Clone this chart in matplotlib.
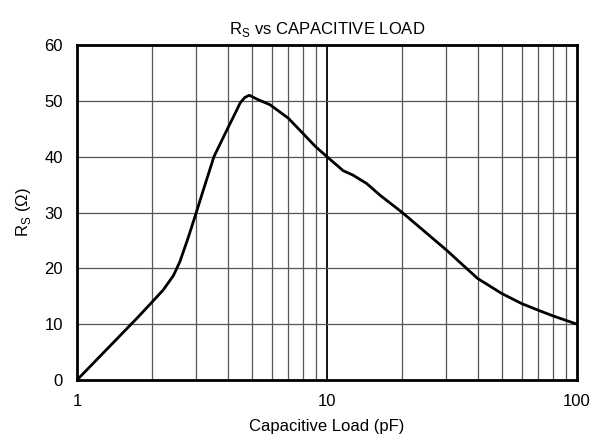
import numpy as np
import matplotlib.pyplot as plt

plt.rcParams['font.family'] = ['Liberation Sans', 'DejaVu Sans']

# values
cap_pf = [1.0, 1.74, 2.0, 2.21, 2.43, 2.58, 2.79, 3.0, 3.2, 3.53, 3.9, 4.0, 4.35, 4.49, 4.69,
          4.89, 5.25, 5.92, 7.0, 8.0, 9.0, 10.0, 11.6, 12.7, 14.4, 16.3, 20.0, 30.0, 40.0,
          50.0, 60.0, 70.0, 80.0, 100.0]
rs_ohm = [0.0, 11.1, 14.0, 16.1, 18.7, 21.2, 25.6, 30.0, 34.0, 40.0, 44.0, 45.0, 48.3, 49.6, 50.6,
          51.0, 50.3, 49.3, 46.9, 44.2, 41.8, 40.0, 37.5, 36.7, 35.2, 33.1, 30.0, 23.3, 18.2,
          15.5, 13.7, 12.5, 11.5, 10.0]

y_ticks = [0, 10, 20, 30, 40, 50, 60]
x_ticks = [1, 10, 100]

fig = plt.figure(figsize=(5.94, 4.44), dpi=100)
ax = fig.add_axes([0.1296, 0.1441, 0.8418, 0.7545])

ax.set_xscale('log')
ax.set_xlim(1, 100)
ax.set_ylim(0, 60)

# grid: grey minor lines, black decade line
for d in [1, 10]:
    for m in range(2, 10):
        ax.axvline(d * m, color='#555555', lw=0.9, zorder=1)
ax.axvline(10, color='black', lw=1.3, zorder=1)
for yv in y_ticks[1:-1]:
    ax.axhline(yv, color='#555555', lw=0.9, zorder=1)

ax.plot(cap_pf, rs_ohm, color='black', lw=2, zorder=3, solid_joinstyle='round')

ax.set_xticks(x_ticks)
ax.set_xticklabels([str(v) for v in x_ticks])
ax.set_xticks([], minor=True)
ax.set_yticks(y_ticks)
ax.tick_params(length=0, labelsize=12, pad=10)

for s in ax.spines.values():
    s.set_linewidth(2)

ax.set_title(r'R$_\mathregular{S}$ vs CAPACITIVE LOAD', fontsize=12, pad=8)
ax.set_xlabel('Capacitive Load (pF)', fontsize=12, labelpad=7)
ax.set_ylabel(r'R$_\mathregular{S}$ (Ω)', fontsize=12, labelpad=8)

fig.savefig('out.png', dpi=100)
